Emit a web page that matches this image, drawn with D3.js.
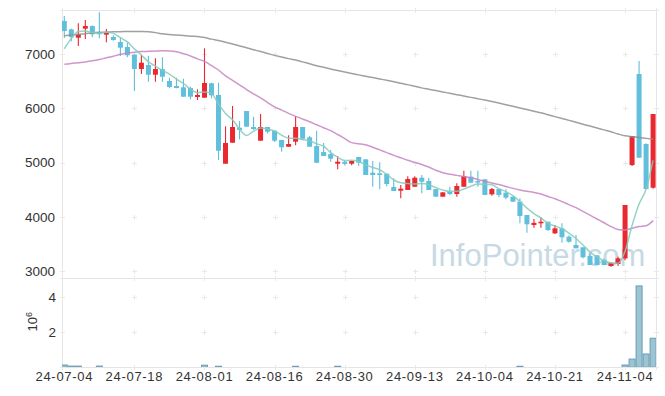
<!DOCTYPE html>
<meta charset="utf-8">
<script src="https://cdn.jsdelivr.net/npm/d3@7/dist/d3.min.js"></script>
<style>
body { margin: 0; background: #fff; }
text { font-family: "Liberation Sans", Arial, sans-serif; fill: #333; }
</style>
<body>
<script>
// trading days shown on the chart
var dates = [
	"24-07-04","24-07-05","24-07-08","24-07-09","24-07-10","24-07-11","24-07-12","24-07-15","24-07-16","24-07-17",
	"24-07-18","24-07-19","24-07-22","24-07-23","24-07-24","24-07-25","24-07-26","24-07-29","24-07-30","24-07-31",
	"24-08-01","24-08-02","24-08-05","24-08-06","24-08-07","24-08-08","24-08-09","24-08-12","24-08-13","24-08-14",
	"24-08-16","24-08-19","24-08-20","24-08-21","24-08-22","24-08-23","24-08-26","24-08-27","24-08-28","24-08-29",
	"24-08-30","24-09-02","24-09-03","24-09-04","24-09-05","24-09-06","24-09-09","24-09-10","24-09-11","24-09-12",
	"24-09-13","24-09-19","24-09-20","24-09-23","24-09-24","24-09-25","24-09-26","24-09-27","24-09-30","24-10-02",
	"24-10-04","24-10-07","24-10-08","24-10-10","24-10-11","24-10-14","24-10-15","24-10-16","24-10-17","24-10-18",
	"24-10-21","24-10-22","24-10-23","24-10-24","24-10-25","24-10-28","24-10-29","24-10-30","24-10-31","24-11-01",
	"24-11-04","24-11-05","24-11-06","24-11-07","24-11-08"];

var opens = [
	7615,7460,7306,7473,7522,7400,7362,7319,7227,7135,
	6993,6729,6802,6623,6729,6507,6415,6391,6378,6212,
	6199,6465,6249,4980,5368,5645,5953,5658,5405,5658,
	5590,5418,5294,5387,5658,5468,5307,5196,5159,4980,
	5017,4980,5104,5061,4815,4803,4796,4550,4482,4495,
	4556,4722,4661,4513,4372,4464,4421,4556,4741,4660,
	4692,4415,4513,4445,4372,4279,4033,3849,3880,3910,
	3695,3787,3633,3480,3437,3277,3289,3203,3092,3129,
	3233,4956,6636,5344,4537];
var highs = [
	7707,7470,7572,7633,7530,7775,7467,7350,7306,7214,
	6995,6987,6974,6926,6945,6568,6568,6550,6402,6354,
	7111,6476,6476,5671,6046,5769,5953,5848,5898,5658,
	5590,5418,5505,5861,5658,5490,5590,5363,5233,5122,
	5040,5040,5104,5061,5030,5006,4796,4711,4587,4750,
	4750,4772,4720,4513,4452,4556,4618,4851,4851,4851,
	4692,4530,4513,4507,4372,4342,4033,3960,3990,3910,
	3849,3880,3660,3664,3437,3338,3289,3230,3153,3264,
	4218,5492,6876,5360,5898];
var lows = [
	7300,7240,7153,7282,7314,7295,7221,7250,6969,6945,
	6323,6636,6494,6494,6489,6372,6372,6217,6169,6156,
	6199,6188,5049,4980,5368,5431,5664,5603,5405,5540,
	5380,5202,5294,5320,5420,5294,4988,5122,5017,4877,
	4950,4950,4938,4772,4556,4507,4560,4476,4342,4495,
	4556,4434,4495,4372,4372,4403,4372,4556,4630,4556,
	4403,4390,4360,4323,4279,3880,3707,3799,3800,3740,
	3682,3522,3520,3419,3230,3111,3111,3111,3080,3092,
	3200,4938,5091,4513,4520];
var closes = [
	7430,7315,7369,7522,7369,7370,7406,7264,7122,6982,
	6729,6845,6623,6729,6586,6396,6378,6217,6217,6249,
	6470,6243,5220,5363,5658,5603,5664,5621,5658,5571,
	5405,5283,5344,5658,5442,5294,4999,5122,5073,5017,
	4980,5030,4999,4772,4772,4772,4606,4476,4519,4698,
	4722,4648,4495,4372,4452,4421,4569,4753,4630,4650,
	4403,4513,4403,4353,4279,4015,3862,3889,3910,3756,
	3787,3622,3540,3419,3253,3111,3111,3111,3153,3233,
	4218,5492,5091,4513,5898];

// volume, in units of 10^6 shares
var volumes = [
	0.13,0.07,0.07,0,0,0.07,0,0,0,0,
	0,0,0,0,0,0,0,0,0,0,
	0.12,0,0.06,0,0,0,0,0,0,0,
	0,0,0,0.06,0,0,0,0,0,0.06,
	0,0,0,0,0,0,0,0,0,0,
	0,0,0,0,0,0,0,0,0,0,
	0,0,0,0,0,0.06,0,0,0,0,
	0,0,0,0,0,0,0,0,0,0,
	0.13,0.47,4.65,0.76,1.66];

var ma5 = [
	7100,7290,7420,7430,7401,7389,7407,7386,7306,7229,
	7101,6988,6860,6782,6702,6636,6542,6461,6359,6291,
	6306,6279,6080,5909,5791,5617,5502,5582,5641,5623,
	5584,5508,5452,5452,5426,5404,5347,5303,5186,5101,
	5038,5044,5020,4960,4911,4869,4784,4680,4629,4614,
	4604,4613,4590,4540,4495,4470,4470,4513,4565,4605,
	4601,4590,4520,4464,4390,4280,4160,4060,3980,3880,
	3830,3780,3700,3600,3480,3350,3260,3190,3148,3144,
	3365,3841,4237,4509,5042];
var ma20 = [
	6815,6830,6845,6860,6880,6905,6935,6965,7000,7020,
	7040,7050,7055,7060,7065,7062,7048,7010,6970,6915,
	6870,6790,6710,6600,6520,6435,6350,6270,6195,6110,
	6030,5970,5910,5855,5805,5756,5700,5645,5590,5520,
	5445,5370,5350,5330,5285,5235,5185,5135,5090,5045,
	5005,4965,4920,4860,4815,4785,4765,4745,4720,4690,
	4655,4625,4595,4560,4525,4495,4470,4450,4420,4375,
	4335,4280,4225,4170,4100,4030,3960,3890,3820,3765,
	3755,3790,3820,3835,3930];
var ma60 = [
	7343,7355,7368,7380,7395,7405,7410,7414,7418,7419,
	7420,7420,7416,7400,7378,7365,7355,7345,7335,7328,
	7310,7280,7255,7222,7190,7155,7120,7085,7050,7015,
	6980,6950,6920,6895,6860,6825,6790,6760,6730,6700,
	6672,6645,6620,6595,6570,6545,6520,6495,6465,6440,
	6410,6380,6355,6330,6305,6280,6255,6230,6205,6180,
	6155,6128,6100,6070,6040,6010,5980,5950,5920,5885,
	5850,5815,5780,5745,5710,5675,5640,5605,5570,5530,
	5495,5478,5465,5448,5432];

var xTickLabels = ["24-07-04","24-07-18","24-08-01","24-08-16","24-08-30","24-09-13","24-10-04","24-10-21","24-11-04"];
var priceTicks = [3000, 4000, 5000, 6000, 7000];
var volumeTicks = [2, 4];

var w = 665,
	h = 396,
	plotLeft = 62,
	plotRight = 656,
	plotTop = 10,
	plotSep = 278,
	plotBottom = 367,
	upColor = "#e9282f",
	downColor = "#5fbfdc",
	gridColor = "#e8e8e8";

var svg = d3.select("body").append("svg")
			.attr("width", w)
			.attr("height", h);

var x = d3.scaleBand().domain(dates).range([60.8, 656.6]);
var y = d3.scaleLinear().domain([3000, 7000]).range([271, 54.3]);
var yv = d3.scaleLinear().domain([0, 4]).range([367.3, 297.3]);

var defs = svg.append("defs");
defs.append("clipPath").attr("id", "clipPrice")
	.append("rect").attr("x", plotLeft).attr("y", plotTop).attr("width", plotRight - plotLeft).attr("height", plotSep - plotTop);
defs.append("clipPath").attr("id", "clipVol")
	.append("rect").attr("x", plotLeft).attr("y", plotSep).attr("width", plotRight - plotLeft).attr("height", plotBottom - plotSep);

// frame
svg.append("rect")
	.attr("x", plotLeft + 0.5).attr("y", plotTop + 0.5)
	.attr("width", plotRight - plotLeft).attr("height", plotBottom - plotTop)
	.style("fill", "none").style("stroke", "#e4e4e4");
svg.append("line")
	.attr("x1", plotLeft).attr("x2", plotRight)
	.attr("y1", plotSep + 0.5).attr("y2", plotSep + 0.5)
	.style("stroke", "#e4e4e4");

// little crosses where grid lines would meet
var gx = [plotLeft].concat(xTickLabels.slice(1).map(function(d) { return x(d) + x.bandwidth() / 2; })).concat([plotRight]);
var gy = [plotTop, plotSep, plotBottom].concat(priceTicks.map(y)).concat(volumeTicks.map(yv));
var crosses = [];
gx.forEach(function(a) { gy.forEach(function(b) { crosses.push([a, b]); }); });
svg.append("path")
	.attr("d", crosses.map(function(p) {
		return "M" + (Math.round(p[0]) - 2) + "," + (Math.round(p[1]) + 0.5) + "h5" +
			"M" + (Math.round(p[0]) + 0.5) + "," + (Math.round(p[1]) - 2) + "v5";
	}).join(""))
	.style("stroke", gridColor)
	.style("fill", "none");

// watermark
svg.append("text")
	.attr("x", 430)
	.attr("y", 266)
	.style("font-size", "31px")
	.style("fill", "#c6d9e5")
	.text("InfoPointer.com");

var candles = dates.map(function(d, i) {
	return { date: d, o: opens[i], h: highs[i], l: lows[i], c: closes[i], v: volumes[i] };
});

var price = svg.append("g").attr("clip-path", "url(#clipPrice)");

price.selectAll(".wick")
	.data(candles)
	.enter()
	.append("line")
	.attr("class", "wick")
	.attr("x1", function(d) { return x(d.date) + x.bandwidth() / 2; })
	.attr("x2", function(d) { return x(d.date) + x.bandwidth() / 2; })
	.attr("y1", function(d) { return y(d.h); })
	.attr("y2", function(d) { return y(d.l); })
	.style("stroke", function(d) { return d.c >= d.o ? upColor : downColor; })
	.style("stroke-width", 1.1);

price.selectAll(".body")
	.data(candles)
	.enter()
	.append("rect")
	.attr("class", "body")
	.attr("x", function(d) { return x(d.date) + x.bandwidth() / 2 - 2.5; })
	.attr("y", function(d) { return y(Math.max(d.o, d.c)); })
	.attr("width", 5)
	.attr("height", function(d) { return Math.max(1.5, Math.abs(y(d.o) - y(d.c))); })
	.style("fill", function(d) { return d.c >= d.o ? upColor : downColor; });

function maLine(values) {
	return d3.line()
		.x(function(d, i) { return x(dates[i]) + x.bandwidth() / 2; })
		.y(function(d) { return y(d); })
		.curve(d3.curveMonotoneX)(values);
}

[[ma60, "#8f8f8f"], [ma20, "#c584c2"], [ma5, "#84cbbb"]].forEach(function(s) {
	price.append("path")
		.attr("d", maLine(s[0]))
		.style("fill", "none")
		.style("stroke", s[1])
		.style("stroke-width", 1.5)
		.style("opacity", 0.85);
});

// volume panel
svg.append("g").attr("clip-path", "url(#clipVol)")
	.selectAll("rect")
	.data(candles.filter(function(d) { return d.v > 0; }))
	.enter()
	.append("rect")
	.attr("x", function(d) { return x(d.date) + 0.5; })
	.attr("y", function(d) { return yv(d.v); })
	.attr("width", x.bandwidth() - 1)
	.attr("height", function(d) { return yv(0) - yv(d.v); })
	.style("fill", "#9cc4d2")
	.style("stroke", "#6a9db4")
	.style("stroke-width", 1);

// axes
var xAxis = svg.append("g")
	.attr("transform", "translate(0," + plotBottom + ")")
	.call(d3.axisBottom(x).tickValues(xTickLabels).tickSize(0).tickPadding(5));
xAxis.select(".domain").remove();
xAxis.selectAll("text")
	.style("font-size", "13px")
	.style("letter-spacing", "0.7px")
	.style("font-family", "'Liberation Sans', Arial, sans-serif")
	.style("fill", "#333");

var yAxis = svg.append("g")
	.attr("transform", "translate(" + plotLeft + ",0)")
	.call(d3.axisLeft(y).tickValues(priceTicks).tickSize(0).tickPadding(7).tickFormat(d3.format("d")));
yAxis.select(".domain").remove();
yAxis.selectAll("text")
	.style("font-size", "13.5px")
	.style("font-family", "'Liberation Sans', Arial, sans-serif")
	.style("fill", "#333");

var vAxis = svg.append("g")
	.attr("transform", "translate(" + plotLeft + ",0)")
	.call(d3.axisLeft(yv).tickValues(volumeTicks).tickSize(0).tickPadding(6).tickFormat(d3.format("d")));
vAxis.select(".domain").remove();
vAxis.selectAll("text")
	.style("font-size", "13.5px")
	.style("font-family", "'Liberation Sans', Arial, sans-serif")
	.style("fill", "#333");

var unit = svg.append("text")
	.attr("transform", "translate(36.5,331.5) rotate(-90)")
	.style("font-size", "13px");
unit.append("tspan").text("10");
unit.append("tspan").attr("dy", -5).style("font-size", "9px").text("6");
</script>
</body>
